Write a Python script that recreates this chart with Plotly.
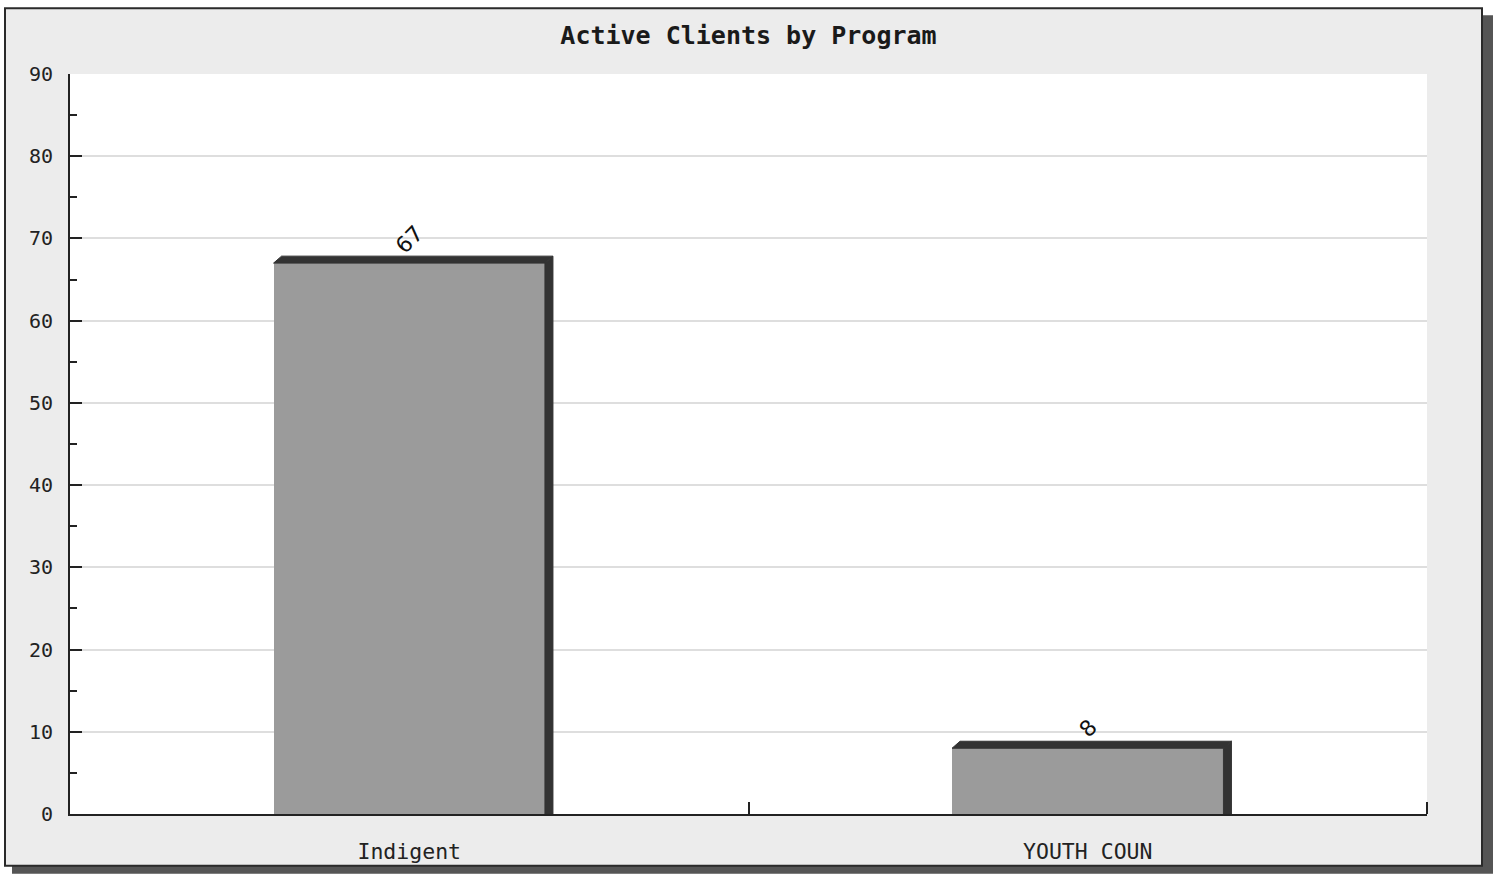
import plotly.graph_objects as go

# Chart data
programs = ["Indigent", "YOUTH COUN"]
clients = [67, 8]

# Figure geometry (pixels)
W, H = 1495, 876
M_L, M_R, M_T, M_B = 70, 68, 74, 60
PLOT_W = W - M_L - M_R
PLOT_H = H - M_T - M_B
X_RANGE = [-0.5, len(programs) - 0.5]
Y_RANGE = [0, 90]
BAR_W = 0.4
DEPTH_X_PX, DEPTH_Y_PX = 8, 7

FRONT = "#9b9b9b"
DARK = "#333333"

ux = PLOT_W / (X_RANGE[1] - X_RANGE[0])   # px per x unit
uy = PLOT_H / (Y_RANGE[1] - Y_RANGE[0])   # px per y unit
dx = DEPTH_X_PX / ux
dy = DEPTH_Y_PX / uy

xs = list(range(len(programs)))

fig = go.Figure()

# front faces
fig.add_trace(go.Bar(
    x=xs, y=clients, width=BAR_W,
    marker=dict(color=FRONT, line=dict(width=0)),
    hoverinfo="skip", showlegend=False,
))

# 3D top and side faces built from each bar's value
for c, v in zip(xs, clients):
    l, r = c - BAR_W / 2, c + BAR_W / 2
    fig.add_trace(go.Scatter(
        x=[l, l + dx, r + dx, r, l], y=[v, v + dy, v + dy, v, v],
        fill="toself", fillcolor=DARK, mode="lines",
        line=dict(color=DARK, width=1), hoverinfo="skip", showlegend=False,
    ))
    fig.add_trace(go.Scatter(
        x=[r, r, r + dx, r + dx, r], y=[0, v, v + dy, 0, 0],
        fill="toself", fillcolor=DARK, mode="lines",
        line=dict(color=DARK, width=1), hoverinfo="skip", showlegend=False,
    ))
    fig.add_annotation(
        x=c, y=v, xref="x", yref="y", text=str(v), showarrow=False,
        textangle=-45, yshift=24 if len(str(v)) > 1 else 20, xshift=0,
        font=dict(family="DejaVu Sans", size=22, color="#111111"),
    )


def px_x(p):
    return (p - M_L) / PLOT_W


def px_y(p):
    return (H - M_B - p) / PLOT_H


shapes = [
    # drop shadow
    dict(type="rect", xref="paper", yref="paper", layer="below",
         x0=px_x(12), x1=px_x(1493), y0=px_y(876), y1=px_y(15),
         fillcolor="#555555", line=dict(width=0)),
    # panel
    dict(type="rect", xref="paper", yref="paper", layer="below",
         x0=px_x(5), x1=px_x(1482), y0=px_y(868), y1=px_y(8),
         fillcolor="#ececec", line=dict(color="#2a2a2a", width=2)),
    # plotting area
    dict(type="rect", xref="paper", yref="paper", layer="below",
         x0=0, x1=1, y0=0, y1=1,
         fillcolor="#ffffff", line=dict(width=0)),
]

fig.update_layout(
    width=W, height=H,
    margin=dict(l=M_L, r=M_R, t=M_T, b=M_B, pad=0),
    paper_bgcolor="#ffffff", plot_bgcolor="rgba(0,0,0,0)",
    shapes=shapes,
    title=dict(
        text="<b>Active Clients by Program</b>", x=0.5, xref="paper",
        y=1 - 35 / H, yanchor="middle",
        font=dict(family="DejaVu Sans Mono", size=25, color="#1a1a1a"),
    ),
    bargap=0,
)

fig.update_xaxes(
    range=X_RANGE, tickvals=xs, ticktext=programs, ticks="",
    showgrid=False, zeroline=False,
    showline=True, linecolor="#222222", linewidth=2,
    tickfont=dict(family="DejaVu Sans Mono", size=21.5, color="#222222"),
    ticklabelstandoff=17,
    minor=dict(tickvals=[x + 0.5 for x in xs], ticks="inside", ticklen=12,
               tickwidth=2, tickcolor="#222222", showgrid=False),
)

fig.update_yaxes(
    range=Y_RANGE, tickvals=list(range(0, 91, 10)), ticks="inside",
    ticklen=12, tickwidth=2, tickcolor="#222222",
    showgrid=True, gridcolor="#dedede", gridwidth=1.5, zeroline=False,
    showline=True, linecolor="#222222", linewidth=2,
    tickfont=dict(family="DejaVu Sans Mono", size=20, color="#222222"),
    ticklabelstandoff=11,
    minor=dict(tickvals=list(range(5, 90, 10)), ticks="inside", ticklen=7,
               tickwidth=2, tickcolor="#222222", showgrid=False),
)

fig.write_html("out.html")
